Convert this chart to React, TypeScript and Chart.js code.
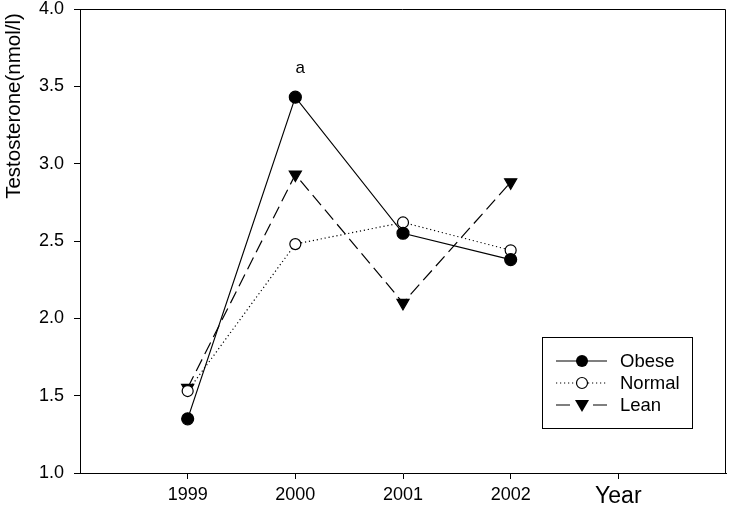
import React, { useEffect, useRef } from "react";
import { Chart, registerables } from "chart.js";

Chart.register(...registerables);

const years = [1999, 2000, 2001, 2002];
const obese = [1.35, 3.43, 2.55, 2.38];
const normal = [1.53, 2.48, 2.62, 2.44];
const lean = [1.55, 2.93, 2.1, 2.88];
const xTickLabels: Record<number, string> = { 1999: "1999", 2000: "2000", 2001: "2001", 2002: "2002", 2003: "" };
const yTitle = "Testosterone(nmol/l)";
const xTitle = "Year";
const annotation = { text: "a", year: 2000, value: 3.43 };
const legendItems = ["Obese", "Normal", "Lean"];

const FONT = "'Liberation Sans', Arial, sans-serif";
const AREA_RIGHT = 726;

const fixArea = {
  id: "fixArea",
  afterLayout(chart: any) {
    const a = chart.chartArea;
    a.right = AREA_RIGHT;
    a.width = a.right - a.left;
    const x = chart.scales.x;
    x.right = AREA_RIGHT;
    x.width = x.right - x.left;
    x.paddingLeft = 0;
    x.paddingRight = 0;
    x.configure();
  },
};

const overlay = {
  id: "overlay",
  afterDraw(chart: any) {
    const { ctx, chartArea: a, scales } = chart;
    const xs = scales.x, ys = scales.y;
    ctx.save();
    ctx.strokeStyle = "#000";
    ctx.lineWidth = 1;
    ctx.beginPath();
    ctx.moveTo(a.left, a.top + 0.5);
    ctx.lineTo(a.right - 0.5, a.top + 0.5);
    ctx.lineTo(a.right - 0.5, a.bottom);
    ctx.stroke();
    ctx.fillStyle = "#000";
    ctx.font = `20.5px ${FONT}`;
    ctx.textAlign = "center";
    ctx.textBaseline = "middle";
    ctx.translate(14, 106);
    ctx.rotate(-Math.PI / 2);
    ctx.fillText(yTitle, 0, 0);
    ctx.setTransform(1, 0, 0, 1, 0, 0);
    ctx.font = `23px ${FONT}`;
    ctx.fillText(xTitle, xs.getPixelForValue(2003), 497);
    ctx.font = `17px ${FONT}`;
    ctx.fillText(annotation.text, xs.getPixelForValue(annotation.year) + 5, ys.getPixelForValue(annotation.value) - 29);
    const lx = 542, ly = 337, lw = 150, lh = 91;
    ctx.lineWidth = 1;
    ctx.strokeRect(lx + 0.5, ly + 0.5, lw, lh);
    const rows = [361, 383, 405];
    const x0 = 556, x1 = 607, mx = 582;
    ctx.font = `18.5px ${FONT}`;
    ctx.textAlign = "left";
    rows.forEach((ry, i) => {
      ctx.strokeStyle = "#000";
      ctx.lineWidth = 1.2;
      if (i === 1) ctx.setLineDash([1.2, 2.8]);
      else ctx.setLineDash([]);
      ctx.beginPath();
      if (i === 2) {
        ctx.moveTo(x0, ry); ctx.lineTo(x0 + 14, ry);
        ctx.moveTo(x1 - 14, ry); ctx.lineTo(x1, ry);
      } else {
        ctx.moveTo(x0, ry); ctx.lineTo(x1, ry);
      }
      ctx.stroke();
      ctx.setLineDash([]);
      ctx.lineWidth = 1.2;
      if (i === 0) {
        ctx.fillStyle = "#000";
        ctx.beginPath(); ctx.arc(mx, ry, 6, 0, Math.PI * 2); ctx.fill();
      } else if (i === 1) {
        ctx.fillStyle = "#fff";
        ctx.beginPath(); ctx.arc(mx, ry, 5.5, 0, Math.PI * 2); ctx.fill(); ctx.stroke();
      } else {
        ctx.fillStyle = "#000";
        ctx.beginPath();
        ctx.moveTo(mx - 7, ry - 5); ctx.lineTo(mx + 7, ry - 5); ctx.lineTo(mx, ry + 7); ctx.closePath(); ctx.fill();
      }
      ctx.fillStyle = "#000";
      ctx.textBaseline = "middle";
      ctx.fillText(legendItems[i], 620, ry + 1);
    });
    ctx.restore();
  },
};

export default function App() {
  const ref = useRef<HTMLCanvasElement>(null);
  useEffect(() => {
    document.body.style.margin = "0";
    const mk = (vals: number[]) => years.map((y, i) => ({ x: y, y: vals[i] }));
    const chart = new Chart(ref.current!, {
      type: "line",
      data: {
        datasets: [
          {
            label: legendItems[0], data: mk(obese), borderColor: "#000", backgroundColor: "#000",
            borderWidth: 1.2, pointRadius: 6, pointStyle: "circle", pointBackgroundColor: "#000", pointBorderColor: "#000",
          },
          {
            label: legendItems[1], data: mk(normal), borderColor: "#000", backgroundColor: "#fff",
            borderWidth: 1.2, borderDash: [1.2, 2.8], pointRadius: 5.5, pointStyle: "circle",
            pointBackgroundColor: "#fff", pointBorderColor: "#000", pointBorderWidth: 1.2,
          },
          {
            label: legendItems[2], data: mk(lean), borderColor: "#000", backgroundColor: "#000",
            borderWidth: 1.2, borderDash: [13, 6], pointRadius: 7, pointStyle: "triangle", pointRotation: 180,
            pointBackgroundColor: "#000", pointBorderColor: "#000",
          },
        ],
      },
      options: {
        animation: false,
        responsive: false,
        layout: { padding: { left: 0, top: 9, right: 3, bottom: 0 } },
        plugins: { legend: { display: false }, tooltip: { enabled: false } },
        scales: {
          x: {
            type: "linear", min: 1998, max: 2004,
            afterBuildTicks: (s: any) => { s.ticks = [1999, 2000, 2001, 2002, 2003].map((v) => ({ value: v })); },
            afterFit: (s: any) => { s.height = 36; s.paddingLeft = 0; s.paddingRight = 0; },
            grid: { drawOnChartArea: false, tickLength: 6, color: "#000", tickColor: "#000" },
            border: { color: "#000", width: 1 },
            ticks: {
              color: "#000", font: { family: FONT, size: 18 }, padding: 5, maxRotation: 0, autoSkip: false,
              callback: (v: any) => xTickLabels[v as number] ?? "",
            },
          },
          y: {
            min: 1, max: 4,
            afterBuildTicks: (s: any) => { s.ticks = [1, 1.5, 2, 2.5, 3, 3.5, 4].map((v) => ({ value: v })); },
            afterFit: (s: any) => { s.width = 80; s.paddingTop = 0; s.paddingBottom = 0; },
            grid: { drawOnChartArea: false, tickLength: 6, color: "#000", tickColor: "#000" },
            border: { color: "#000", width: 1 },
            ticks: {
              color: "#000", font: { family: FONT, size: 18 }, padding: 10,
              callback: (v: any) => Number(v).toFixed(1),
            },
          },
        },
      },
      plugins: [fixArea, overlay],
    });
    return () => chart.destroy();
  }, []);
  return (
    <div style={{ width: 729, height: 509 }}>
      <canvas ref={ref} width={729} height={509} />
    </div>
  );
}
